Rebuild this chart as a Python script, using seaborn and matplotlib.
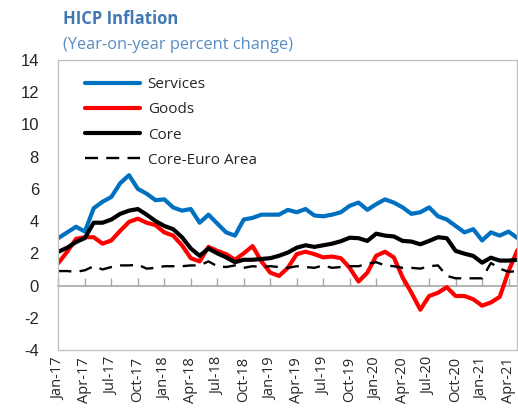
import matplotlib
matplotlib.use('Agg')
import matplotlib.pyplot as plt
import seaborn as sns

# monthly, Jan-17 .. May-21
services = [2.95, 3.3, 3.65, 3.35, 4.8, 5.2, 5.5, 6.35, 6.85, 6.0,
            5.7, 5.3, 5.35, 4.85, 4.65, 4.75, 3.9, 4.4, 3.85, 3.3,
            3.1, 4.1, 4.2, 4.4, 4.4, 4.4, 4.7, 4.55, 4.75, 4.35,
            4.3, 4.4, 4.55, 4.95, 5.15, 4.7, 5.05, 5.35, 5.15, 4.85,
            4.45, 4.55, 4.85, 4.3, 4.1, 3.7, 3.3, 3.5, 2.8, 3.3,
            3.1, 3.35, 2.95]
goods = [1.4, 2.1, 2.9, 3.0, 3.0, 2.6, 2.8, 3.4, 3.95, 4.15,
         3.9, 3.75, 3.3, 3.1, 2.5, 1.7, 1.5, 2.4, 2.15, 1.95,
         1.6, 2.0, 2.45, 1.5, 0.8, 0.6, 1.1, 1.95, 2.1, 1.95,
         1.75, 1.8, 1.7, 1.1, 0.25, 0.8, 1.85, 2.1, 1.75, 0.5,
         -0.45, -1.5, -0.65, -0.45, -0.1, -0.65, -0.65, -0.85, -1.25, -1.05,
         -0.7, 0.9, 2.2]
core = [2.1, 2.35, 2.7, 2.95, 3.9, 3.9, 4.1, 4.45, 4.65, 4.75,
        4.4, 4.0, 3.7, 3.5, 3.0, 2.3, 1.85, 2.3, 2.0, 1.75,
        1.45, 1.6, 1.6, 1.65, 1.7, 1.85, 2.05, 2.35, 2.5, 2.4,
        2.5, 2.6, 2.75, 2.97, 2.94, 2.77, 3.22, 3.1, 3.05, 2.77,
        2.73, 2.56, 2.77, 3.0, 2.94, 2.15, 1.98, 1.84, 1.42, 1.73,
        1.55, 1.55, 1.6]
core_ea = [0.9, 0.9, 0.85, 0.95, 1.2, 1.0, 1.15, 1.25, 1.25, 1.3,
           1.05, 1.1, 1.2, 1.2, 1.2, 1.25, 1.25, 1.5, 1.2, 1.15,
           1.25, 1.1, 1.2, 1.15, 1.2, 1.15, 1.1, 1.2, 1.15, 1.1,
           1.25, 1.1, 1.15, 1.2, 1.2, 1.35, 1.45, 1.25, 1.2, 1.1,
           1.1, 1.05, 1.2, 1.25, 0.6, 0.45, 0.45, 0.45, 0.45, 1.4,
           1.05, 0.85, 0.9]
tick_labels = ['Jan-17', 'Apr-17', 'Jul-17', 'Oct-17', 'Jan-18', 'Apr-18',
               'Jul-18', 'Oct-18', 'Jan-19', 'Apr-19', 'Jul-19', 'Oct-19',
               'Jan-20', 'Apr-20', 'Jul-20', 'Oct-20', 'Jan-21', 'Apr-21']

sns.set_style('white')
plt.rcParams['font.family'] = ['Open Sans', 'DejaVu Sans']

fig = plt.figure(figsize=(5.18, 4.15), dpi=100)
ax = fig.add_axes([58.4 / 518, 65 / 415, 459 / 518, 290 / 415])

months = list(range(len(services)))
sns.lineplot(x=months, y=services, color='#0070C0', lw=3, label='Services', ax=ax)
sns.lineplot(x=months, y=goods, color='#FF0000', lw=3, label='Goods', ax=ax)
sns.lineplot(x=months, y=core, color='black', lw=3, label='Core', ax=ax)
sns.lineplot(x=months, y=core_ea, color='black', lw=1.7, label='Core-Euro Area', ax=ax)
ax.lines[-1].set_linestyle((0, (5.5, 3.5)))

ax.set_xlim(0, len(services) - 1)
ax.set_ylim(-4, 14)
ax.set_yticks(range(-4, 15, 2))
ax.set_yticklabels([str(v) for v in range(-4, 15, 2)], family='Liberation Sans', fontsize=12)
ax.set_xticks(range(0, len(services), 3))
ax.set_xticklabels(tick_labels, rotation=90, fontsize=10.5)
ax.tick_params(axis='x', length=0, pad=5)
ax.tick_params(axis='y', length=0, pad=14)
for s in ax.spines.values():
    s.set_color('#BFBFBF')
    s.set_linewidth(0.9)

# zero line with tick marks
zero = ax.secondary_xaxis(4 / 18)
zero.set_xticks(range(0, len(services), 3))
zero.tick_params(direction='in', length=6, width=1, color='#A6A6A6',
                 labelbottom=False, labeltop=False)
for s in zero.spines.values():
    s.set_color('#A6A6A6')
    s.set_linewidth(1.2)

ax.legend(loc='upper left', bbox_to_anchor=(0.058, 0.94), frameon=False,
          fontsize=11, handlelength=3.6, handletextpad=0.5, labelspacing=0.66,
          borderpad=0, borderaxespad=0)

fig.text(63 / 518, 1 - 19 / 415, 'HICP Inflation', fontsize=12, fontweight='bold',
         color='#4178B4', va='center')
fig.text(63 / 518, 1 - 45 / 415, '(Year-on-year percent change)', fontsize=11.8,
         color='#5B8BC3', va='center')

fig.savefig('out.png', dpi=100)
